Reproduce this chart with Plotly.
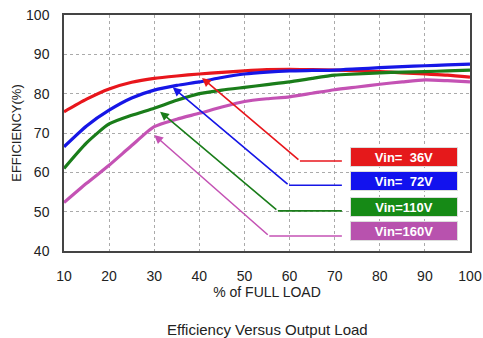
import plotly.graph_objects as go

load = [10, 15, 20, 25, 30, 35, 40, 45, 50, 55, 60, 65, 70, 75, 80, 85, 90, 95, 100]
eff_36 = [75.4, 78.6, 81.2, 82.9, 83.9, 84.5, 85.0, 85.4, 85.8, 86.1, 86.2, 86.1, 86.0, 85.8, 85.6, 85.3, 85.0, 84.7, 84.2]
eff_72 = [66.5, 71.8, 75.8, 78.9, 80.9, 82.1, 83.0, 84.1, 85.0, 85.5, 85.8, 85.9, 86.0, 86.3, 86.6, 86.9, 87.1, 87.3, 87.5]
eff_110 = [61.0, 67.5, 72.3, 74.5, 76.3, 78.3, 80.0, 80.9, 81.6, 82.3, 83.0, 83.9, 84.7, 85.0, 85.3, 85.5, 85.6, 85.8, 86.0]
eff_160 = [52.3, 57.2, 61.8, 66.8, 71.6, 73.5, 75.0, 76.6, 78.0, 78.7, 79.2, 80.1, 81.0, 81.7, 82.4, 83.0, 83.5, 83.3, 83.0]

series_names = ["Vin=  36V", "Vin=  72V", "Vin=110V", "Vin=160V"]
series_values = [eff_36, eff_72, eff_110, eff_160]
line_colors = ["#e8161c", "#1616e6", "#1a7d1a", "#c452b4"]
box_colors = ["#e5191b", "#1212ee", "#168a16", "#b852ae"]

# callout leader lines: label end -> elbow -> arrow tip
leader_x = [[71.6, 62.3, 40.6], [71.6, 59.9, 34.1], [71.6, 57.4, 31.3], [71.6, 55.5, 30.0]]
leader_y = [[62.9, 62.9, 84.0], [56.7, 56.7, 81.6], [50.2, 50.2, 75.4], [43.8, 43.8, 69.5]]
label_x = [85.4, 85.4, 85.4, 85.4]
label_y = [64.0, 57.7, 51.3, 45.0]

x_ticks = [10, 20, 30, 40, 50, 60, 70, 80, 90, 100]
y_ticks = [40, 50, 60, 70, 80, 90, 100]

fig = go.Figure()

for name, vals, col in zip(series_names, series_values, line_colors):
    fig.add_trace(go.Scatter(x=load, y=vals, mode="lines", name=name,
                             line=dict(color=col, width=3.2, shape="spline", smoothing=0.6),
                             showlegend=False, hoverinfo="skip"))

annotations = []
for lx, ly, col, bx, by, name, bc in zip(leader_x, leader_y, line_colors, label_x, label_y, series_names, box_colors):
    fig.add_trace(go.Scatter(x=lx[:2], y=ly[:2], mode="lines",
                             line=dict(color=col, width=1.6), showlegend=False, hoverinfo="skip"))
    annotations.append(dict(x=lx[2], y=ly[2], ax=lx[1], ay=ly[1], xref="x", yref="y",
                            axref="x", ayref="y", showarrow=True, arrowhead=2, arrowsize=1.1,
                            arrowwidth=1.6, arrowcolor=col, text=""))
    annotations.append(dict(x=bx, y=by, xref="x", yref="y", text="<b>" + name + "</b>",
                            showarrow=False, bgcolor=bc, width=104, height=16,
                            font=dict(color="white", size=13, family="Arial"),
                            bordercolor="#dddddd", borderwidth=1, borderpad=1))

annotations.append(dict(x=0.5, y=0, xref="paper", yref="paper", yanchor="middle", yshift=-78,
                        text="Efficiency Versus Output Load", showarrow=False,
                        font=dict(size=15, color="#222222", family="Arial")))

fig.update_layout(
    width=483, height=338,
    margin=dict(l=64, r=13, t=15, b=87),
    plot_bgcolor="white", paper_bgcolor="white",
    annotations=annotations,
    font=dict(family="Arial", color="#222222"),
)
fig.update_xaxes(range=[10, 100], tickvals=x_ticks, ticks="", ticklabelstandoff=11,
                 showgrid=True, gridcolor="#aaaaaa", griddash="dot", gridwidth=1,
                 showline=True, linecolor="#444444", linewidth=1.5, mirror=True,
                 tickfont=dict(size=14), zeroline=False, automargin=False,
                 title=dict(text="% of FULL LOAD", font=dict(size=14), standoff=0))
fig.update_yaxes(range=[40, 100], tickvals=y_ticks, ticks="", ticklabelstandoff=10,
                 showgrid=True, gridcolor="#aaaaaa", griddash="dot", gridwidth=1,
                 showline=True, linecolor="#444444", linewidth=1.5, mirror=True,
                 tickfont=dict(size=14), zeroline=False, automargin=False,
                 title=dict(text="EFFICIENCY(%)", font=dict(size=13), standoff=2))

fig.write_html("out.html", config={"displayModeBar": False},
               post_script="document.body.style.margin='0';document.body.style.overflow='hidden';")
